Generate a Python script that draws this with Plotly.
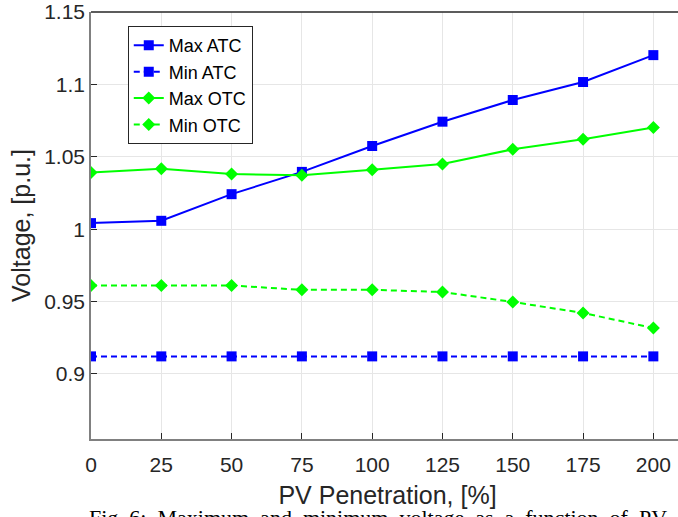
import plotly.graph_objects as go

pv = [0, 25, 50, 75, 100, 125, 150, 175, 200]
max_atc = [1.0042, 1.0058, 1.0242, 1.0396, 1.0575, 1.0743, 1.0893, 1.1017, 1.1203]
min_atc = [0.9121, 0.9121, 0.9121, 0.9121, 0.9121, 0.9121, 0.9121, 0.9121, 0.9121]
max_otc = [1.0391, 1.0417, 1.0382, 1.0372, 1.0410, 1.0451, 1.0552, 1.0621, 1.0702]
min_otc = [0.9611, 0.9611, 0.9611, 0.9581, 0.9581, 0.9566, 0.9497, 0.9421, 0.9317]
x_ticks = [0, 25, 50, 75, 100, 125, 150, 175, 200]
y_ticks = [0.9, 0.95, 1.0, 1.05, 1.1, 1.15]
y_tick_text = ["0.9", "0.95", "1", "1.05", "1.1", "1.15"]

BLUE = "#0000FF"
GREEN = "#00FF00"

fig = go.Figure()
fig.add_trace(go.Scatter(x=pv, y=max_atc, name="Max ATC", mode="lines+markers",
                         line=dict(color=BLUE, width=2),
                         marker=dict(symbol="square", size=10, color=BLUE)))
fig.add_trace(go.Scatter(x=pv, y=min_atc, name="Min ATC", mode="lines+markers",
                         line=dict(color=BLUE, width=2, dash="6px,4px"),
                         marker=dict(symbol="square", size=10, color=BLUE)))
fig.add_trace(go.Scatter(x=pv, y=max_otc, name="Max OTC", mode="lines+markers",
                         line=dict(color=GREEN, width=2),
                         marker=dict(symbol="diamond", size=10, color=GREEN)))
fig.add_trace(go.Scatter(x=pv, y=min_otc, name="Min OTC", mode="lines+markers",
                         line=dict(color=GREEN, width=2, dash="6px,4px"),
                         marker=dict(symbol="diamond", size=10, color=GREEN)))

font_family = "Liberation Sans, Arial, sans-serif"

fig.update_layout(
    width=684, height=517,
    margin=dict(l=91, r=0, t=12, b=78, autoexpand=False),
    paper_bgcolor="white", plot_bgcolor="white",
    font=dict(family=font_family, size=21, color="#262626"),
    showlegend=True,
    legend=dict(x=0.062, y=0.967, xanchor="left", yanchor="top",
                bgcolor="white", bordercolor="#262626", borderwidth=1,
                font=dict(size=18, color="black"), itemwidth=30),
    xaxis=dict(range=[0, 210.9], tickvals=x_ticks, ticks="inside", ticklen=6,
               tickcolor="#262626", showline=True, linecolor="#808080", linewidth=1.5,
               showgrid=True, gridcolor="#e6e6e6", gridwidth=1, zeroline=False,
               automargin=False, ticklabelstandoff=6,
               title=dict(text="PV Penetration, [%]", standoff=12),
               tickfont=dict(size=21)),
    yaxis=dict(range=[0.855, 1.1501], tickvals=y_ticks, ticktext=y_tick_text,
               ticks="inside", ticklen=6, tickcolor="#262626",
               showline=True, linecolor="#808080", linewidth=1.5,
               showgrid=True, gridcolor="#e6e6e6", gridwidth=1, zeroline=False,
               automargin=False,
               title=dict(text="Voltage, [p.u.]", standoff=6),
               tickfont=dict(size=21)),
)

# top border of the axes box
fig.add_shape(type="line", xref="paper", yref="paper", x0=0, x1=1, y0=1, y1=1,
              line=dict(color="#262626", width=1.5))

# partially visible figure caption below the chart
fig.add_annotation(text="Fig. 6:  Maximum  and  minimum  voltage  as  a  function  of  PV",
                   xref="paper", yref="paper", x=-0.006, y=(439 - 503) / 427,
                   xanchor="left", yanchor="top", showarrow=False,
                   font=dict(family="Liberation Serif, Times New Roman, serif", size=22, color="black"))

fig.write_html("out.html",
               config={"displayModeBar": False},
               post_script="document.body.style.margin='0';document.body.style.overflow='hidden';")
